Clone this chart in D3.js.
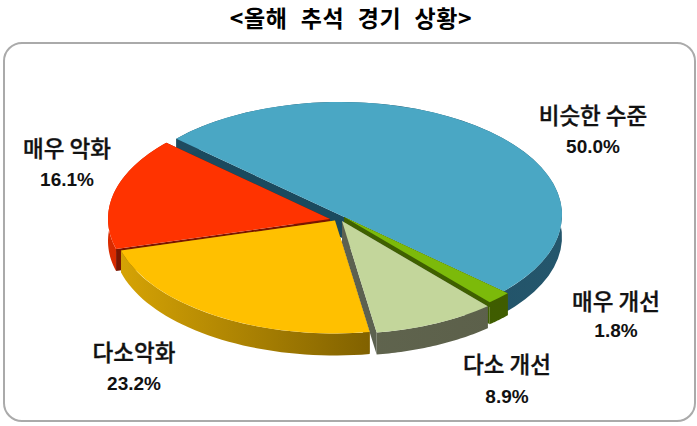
<!DOCTYPE html>
<html>
<head>
<meta charset="utf-8">
<script src="https://cdn.jsdelivr.net/npm/d3@7"></script>
<style>
html, body { margin: 0; padding: 0; background: #fff; }
svg { display: block; }
.name { font-family: "Noto Sans CJK KR", sans-serif; font-size: 22.5px; font-weight: 500; fill: #111; stroke: #111; stroke-width: 0.35px; }
.pct { font-family: "Liberation Sans", Arial, sans-serif; font-size: 19px; font-weight: bold; fill: #111; }
.title { font-family: "Noto Sans CJK KR", sans-serif; font-size: 23px; font-weight: 700; fill: #000; }
</style>
</head>
<body>
<svg id="chart" width="697" height="426"></svg>
<script>
// data, clockwise from the blue slice
var categories = ['비슷한 수준', '매우 개선', '다소 개선', '다소악화', '매우 악화'];
var values = [50.0, 1.8, 8.9, 23.2, 16.1];

// look of each slice
var topColors = ['#4aa7c4', '#7cba0a', '#c3d69b', '#ffc000', '#ff3300'];
var wallFrom = ['#1d4a5e', '#3f6000', '#666b55', '#d8a505', '#d92b00'];
var wallTo = ['#24566c', '#3f5c00', '#5a5e48', '#7f6000', '#8f1c00'];
var cutColors = ['#1b4a5e', '#3f6000', '#5c6150', '#7f6000', '#7a1500'];
// pulled out slices, centre of each top face
var centers = [[340, 215], [344, 217], [342, 221], [335, 220.5], [330, 219]];
var labelPos = [[593, 124, 153], [616, 310, 337], [507, 373, 403], [134, 361, 390], [67, 157, 186]];
// back to front
var drawOrder = [0, 1, 2, 4, 3];

var rx = 222, ry = 113, depth = 22;
var startAngle = -47.5 * Math.PI / 180;

var svg = d3.select('#chart');
var defs = svg.append('defs');

// frame
svg.append('rect')
  .attr('x', 4).attr('y', 43)
  .attr('width', 691).attr('height', 378)
  .attr('rx', 18).attr('ry', 18)
  .style('fill', '#fff')
  .style('stroke', '#aaa')
  .style('stroke-width', 2);

svg.append('text')
  .attr('class', 'title')
  .attr('x', 351).attr('y', 26.8)
  .attr('text-anchor', 'middle')
  .style('letter-spacing', '0.6px')
  .style('word-spacing', '7.5px')
  .text('<올해 추석 경기 상황>');

var pie = d3.pie().sort(null)
  .startAngle(startAngle)
  .endAngle(startAngle + 2 * Math.PI);
var slices = pie(values);

// the top faces are plain d3 arcs squashed to an ellipse
var arc = d3.arc().innerRadius(0).outerRadius(rx);
var line = d3.line();

function project(c, a, drop) {
  return [c[0] + rx * Math.sin(a), c[1] - ry * Math.cos(a) + drop];
}

function rimPoints(c, a0, a1) {
  var pts = [], back = [];
  d3.range(0, 41).forEach(function(i) {
    var a = a0 + (a1 - a0) * i / 40;
    pts.push(project(c, a, 0));
    back.unshift(project(c, a, depth));
  });
  return pts.concat(back);
}

function cutPoints(c, a) {
  var p = project(c, a, 0);
  return [c, p, [p[0], p[1] + depth], [c[0], c[1] + depth]];
}

drawOrder.forEach(function(i) {
  var d = slices[i], c = centers[i];
  var g = svg.append('g');

  var grad = defs.append('linearGradient')
    .attr('id', 'wall' + i)
    .attr('gradientUnits', 'userSpaceOnUse')
    .attr('x1', c[0] - rx).attr('x2', c[0] + (i === 3 ? 40 : rx))
    .attr('y1', 0).attr('y2', 0);
  grad.append('stop').attr('offset', 0).attr('stop-color', wallFrom[i]);
  grad.append('stop').attr('offset', 1).attr('stop-color', wallTo[i]);

  g.append('path')
    .attr('d', line(cutPoints(c, d.startAngle)) + 'Z')
    .style('fill', cutColors[i]);
  g.append('path')
    .attr('d', line(cutPoints(c, d.endAngle)) + 'Z')
    .style('fill', cutColors[i]);
  g.append('path')
    .attr('d', line(rimPoints(c, d.startAngle, d.endAngle)) + 'Z')
    .style('fill', 'url(#wall' + i + ')');

  g.append('path')
    .attr('d', arc(d))
    .attr('transform', 'translate(' + c[0] + ',' + c[1] + ') scale(1,' + (ry / rx) + ')')
    .style('fill', topColors[i]);
});

// labels
categories.forEach(function(name, i) {
  svg.append('text')
    .attr('class', 'name')
    .attr('x', labelPos[i][0]).attr('y', labelPos[i][1])
    .attr('text-anchor', 'middle')
    .text(name);
  svg.append('text')
    .attr('class', 'pct')
    .attr('x', labelPos[i][0]).attr('y', labelPos[i][2])
    .attr('text-anchor', 'middle')
    .text(d3.format('.1f')(values[i]) + '%');
});
</script>
</body>
</html>
